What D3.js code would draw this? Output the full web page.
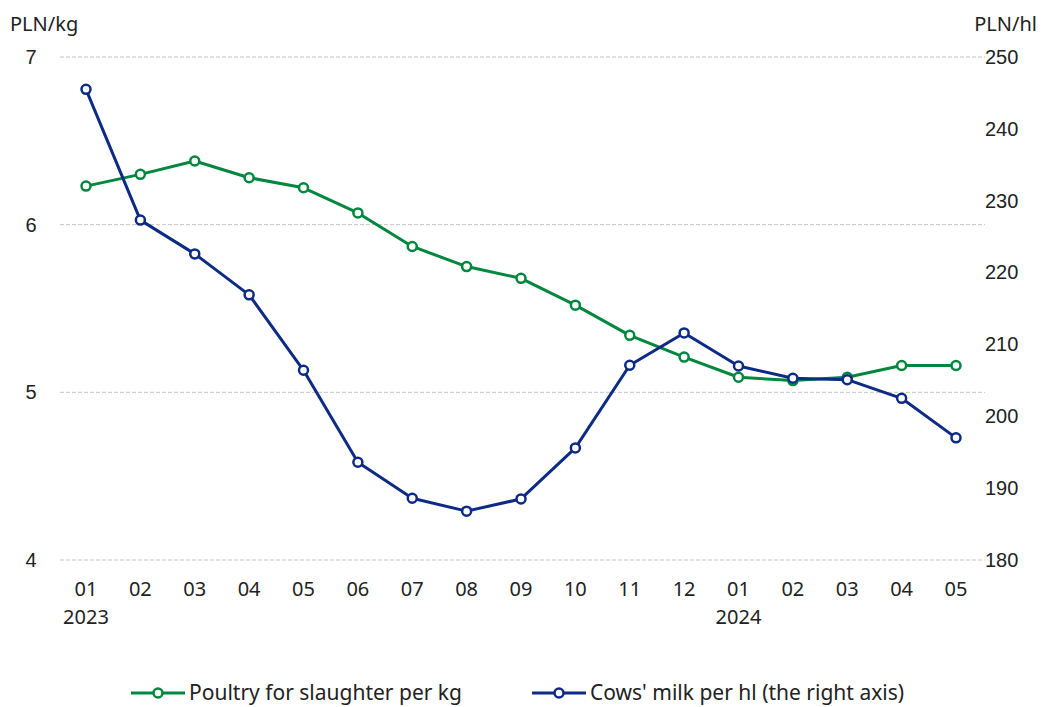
<!DOCTYPE html>
<html>
<head>
<meta charset="utf-8">
<script src="https://cdn.jsdelivr.net/npm/d3@7"></script>
<style>
  body { margin: 0; background: #fff; }
  svg { font-family: "Noto Sans", sans-serif; }
</style>
</head>
<body>
<div id="chart"></div>
<script>
// Data
const months = ["01", "02", "03", "04", "05", "06", "07", "08", "09", "10", "11", "12", "01", "02", "03", "04", "05"];
const years = ["2023", "", "", "", "", "", "", "", "", "", "", "", "2024", "", "", "", ""];
const poultry = [6.23, 6.30, 6.38, 6.28, 6.22, 6.07, 5.87, 5.75, 5.68, 5.52, 5.34, 5.21, 5.09, 5.07, 5.09, 5.16, 5.16];
const milk = [245.5, 227.3, 222.6, 216.9, 206.4, 193.6, 188.6, 186.8, 188.5, 195.6, 207.1, 211.6, 207.0, 205.3, 205.1, 202.5, 197.0];
const leftTicks = [4, 5, 6, 7];
const rightTicks = [180, 190, 200, 210, 220, 230, 240, 250];

const width = 1044, height = 707;
const green = "#00873e", blue = "#0d2a85";

const svg = d3.select("#chart").append("svg")
  .attr("width", width)
  .attr("height", height);

// Scales
const x = d3.scalePoint()
  .domain(d3.range(months.length))
  .range([86, 956]);

const yLeft = d3.scaleLinear().domain([4, 7]).range([560, 57]);
const yRight = d3.scaleLinear().domain([180, 250]).range([560, 57]);

// Gridlines
svg.append("g")
  .selectAll("line")
  .data(leftTicks)
  .join("line")
    .attr("x1", 60)
    .attr("x2", 985)
    .attr("y1", d => yLeft(d))
    .attr("y2", d => yLeft(d))
    .attr("stroke", "#c4c4c4")
    .attr("stroke-width", 1)
    .attr("stroke-dasharray", "4,2");

// Left axis
const leftAxis = svg.append("g")
  .attr("transform", "translate(40,0)")
  .call(d3.axisLeft(yLeft).tickValues(leftTicks).tickFormat(d3.format("d")).tickSize(0).tickPadding(0));
leftAxis.select(".domain").remove();
leftAxis.selectAll("text")
  .attr("text-anchor", "middle")
  .attr("x", -9)
  .attr("font-size", 20)
  .attr("fill", "#222");

// Right axis
const rightAxis = svg.append("g")
  .attr("transform", "translate(985,0)")
  .call(d3.axisRight(yRight).tickValues(rightTicks).tickSize(0).tickPadding(0));
rightAxis.select(".domain").remove();
rightAxis.selectAll("text")
  .attr("x", 0)
  .attr("font-size", 20)
  .attr("fill", "#222");

// Axis unit labels
svg.append("text")
  .attr("x", 10).attr("y", 31)
  .attr("font-size", 20).attr("fill", "#222")
  .text("PLN/kg");
svg.append("text")
  .attr("x", 1037).attr("y", 31)
  .attr("text-anchor", "end")
  .attr("font-size", 20).attr("fill", "#222")
  .text("PLN/hl");

// X axis labels
const xLabels = svg.append("g");
xLabels.selectAll(".month")
  .data(months)
  .join("text")
    .attr("class", "month")
    .attr("x", (d, i) => x(i))
    .attr("y", 596)
    .attr("text-anchor", "middle")
    .attr("font-size", 20)
    .attr("fill", "#222")
    .text(d => d);
xLabels.selectAll(".year")
  .data(years)
  .join("text")
    .attr("class", "year")
    .attr("x", (d, i) => x(i))
    .attr("y", 624)
    .attr("text-anchor", "middle")
    .attr("font-size", 20)
    .attr("fill", "#222")
    .text(d => d);

// Series
function drawSeries(values, scale, colour) {
  const line = d3.line()
    .x((d, i) => x(i))
    .y(d => scale(d));

  svg.append("path")
    .datum(values)
    .attr("fill", "none")
    .attr("stroke", colour)
    .attr("stroke-width", 3)
    .attr("stroke-linejoin", "round")
    .attr("d", line);

  svg.append("g")
    .selectAll("circle")
    .data(values)
    .join("circle")
      .attr("cx", (d, i) => x(i))
      .attr("cy", d => scale(d))
      .attr("r", 4.5)
      .attr("fill", "#fff")
      .attr("stroke", colour)
      .attr("stroke-width", 2.5);
}

drawSeries(poultry, yLeft, green);
drawSeries(milk, yRight, blue);

// Legend
const legendItems = [
  { label: "Poultry for slaughter per kg", colour: green, x: 131 },
  { label: "Cows' milk per hl (the right axis)", colour: blue, x: 532 }
];

const legend = svg.append("g")
  .selectAll("g")
  .data(legendItems)
  .join("g")
    .attr("transform", d => `translate(${d.x},693)`);

legend.append("line")
  .attr("x1", 0).attr("x2", 54)
  .attr("stroke", d => d.colour)
  .attr("stroke-width", 3);
legend.append("circle")
  .attr("cx", 27)
  .attr("r", 4.5)
  .attr("fill", "#fff")
  .attr("stroke", d => d.colour)
  .attr("stroke-width", 2.5);
legend.append("text")
  .attr("x", 58)
  .attr("y", 7)
  .attr("font-size", 21)
  .attr("fill", "#222")
  .text(d => d.label);
</script>
</body>
</html>
